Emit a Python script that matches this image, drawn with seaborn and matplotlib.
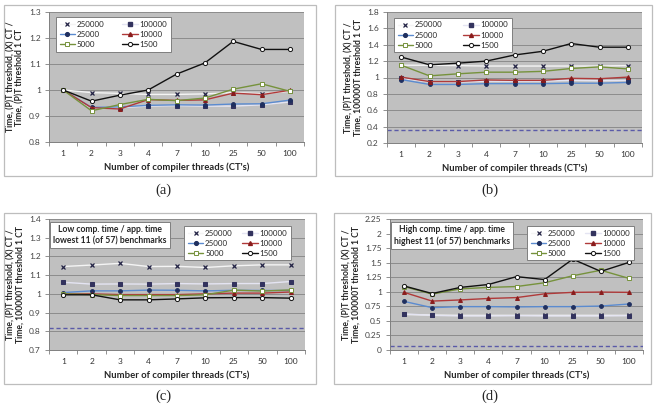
import seaborn as sns
import matplotlib.pyplot as plt
import matplotlib.patches as patches
import matplotlib.ticker as mticker
from matplotlib.lines import Line2D
import numpy as np

threads = ["1", "2", "3", "4", "7", "10", "25", "50", "100"]
series_names = ["250000", "100000", "25000", "10000", "5000", "1500"]

# panel (a)
a_250000 = [1.0, 0.99, 0.987, 0.983, 0.983, 0.985, 0.99, 0.986, 0.995]
a_100000 = [1.0, 0.93, 0.932, 0.938, 0.94, 0.938, 0.938, 0.943, 0.954]
a_25000 = [1.0, 0.933, 0.935, 0.941, 0.943, 0.942, 0.946, 0.947, 0.961]
a_10000 = [1.0, 0.932, 0.927, 0.963, 0.96, 0.962, 0.988, 0.982, 0.999]
a_5000 = [1.0, 0.92, 0.944, 0.964, 0.959, 0.969, 1.003, 1.024, 0.995]
a_1500 = [1.0, 0.957, 0.98, 1.0, 1.061, 1.104, 1.187, 1.156, 1.156]

# panel (b)
b_250000 = [1.15, 1.15, 1.145, 1.14, 1.14, 1.14, 1.14, 1.14, 1.145]
b_100000 = [0.99, 0.945, 0.945, 0.955, 0.955, 0.955, 0.965, 0.96, 0.965]
b_25000 = [0.975, 0.915, 0.915, 0.925, 0.925, 0.925, 0.93, 0.93, 0.94]
b_10000 = [1.005, 0.95, 0.95, 0.97, 0.965, 0.965, 0.99, 0.985, 1.005]
b_5000 = [1.15, 1.02, 1.045, 1.065, 1.065, 1.075, 1.11, 1.13, 1.105]
b_1500 = [1.25, 1.155, 1.175, 1.2, 1.275, 1.32, 1.415, 1.37, 1.37]
b_ref = 0.36

# panel (c)
c_250000 = [1.146, 1.154, 1.163, 1.146, 1.147, 1.141, 1.15, 1.155, 1.155]
c_100000 = [1.062, 1.052, 1.053, 1.052, 1.055, 1.053, 1.055, 1.055, 1.066]
c_25000 = [1.007, 1.016, 1.016, 1.02, 1.019, 1.016, 1.019, 1.018, 1.018]
c_10000 = [1.0, 1.0, 0.996, 0.996, 0.996, 1.0, 1.004, 1.004, 1.01]
c_5000 = [1.0, 0.996, 0.991, 0.991, 0.991, 0.995, 1.02, 1.015, 1.021]
c_1500 = [0.995, 0.995, 0.968, 0.968, 0.973, 0.979, 0.98, 0.98, 0.977]
c_ref = 0.82

# panel (d)
d_250000 = [0.61, 0.6, 0.595, 0.595, 0.595, 0.595, 0.595, 0.595, 0.595]
d_100000 = [0.62, 0.595, 0.585, 0.585, 0.59, 0.585, 0.585, 0.585, 0.59]
d_25000 = [0.835, 0.727, 0.745, 0.745, 0.74, 0.745, 0.745, 0.755, 0.79]
d_10000 = [0.99, 0.84, 0.86, 0.885, 0.9, 0.965, 0.99, 0.995, 0.99]
d_5000 = [1.09, 0.96, 1.05, 1.075, 1.09, 1.155, 1.275, 1.37, 1.23]
d_1500 = [1.1, 0.97, 1.075, 1.125, 1.26, 1.21, 1.56, 1.35, 1.505]
d_ref = 0.075

styles = {
    "250000": dict(color="#f4f4f4", marker="x", markersize=2.6, mec="#222244", mfc="#222244", mew=0.9),
    "100000": dict(color="#e4e4f2", marker="s", markersize=3.0, mec="#33335e", mfc="#33335e"),
    "25000": dict(color="#5b8bd0", marker="o", markersize=2.7, mec="#1f2f5f", mfc="#1f2f5f"),
    "10000": dict(color="#b03a3a", marker="^", markersize=2.8, mec="#8a1c1c", mfc="#8a1c1c"),
    "5000": dict(color="#76923c", marker="s", markersize=3.0, mec="#76923c", mfc="white", mew=0.7),
    "1500": dict(color="#111111", marker="o", markersize=3.0, mec="#111111", mfc="white", mew=0.7),
}

sns.set_theme(style="white")
plt.rcParams["font.family"] = ["Lato", "DejaVu Sans"]

W, H = 655, 404
fig = plt.figure(figsize=(W / 100, H / 100), dpi=100)
fig.patch.set_facecolor("white")


def px_axes(l, t, r, b):
    return fig.add_axes([l / W, 1 - b / H, (r - l) / W, (b - t) / H])


def frame(l, t, r, b):
    fig.patches.append(patches.Rectangle((l / W, 1 - b / H), (r - l) / W, (b - t) / H,
                                         transform=fig.transFigure, fill=False,
                                         edgecolor="#bdbdbd", linewidth=0.9))


ylab_a = "Time, (P)T threshold, (X) CT /\nTime, (P)T threshold 1 CT"
ylab_b = "Time, (P)T threshold, (X) CT /\nTime, 100000T threshold 1 CT"

panels = [
    dict(box=(49, 12, 304, 142), frame=(4, 5, 316, 176), data=[a_250000, a_100000, a_25000, a_10000, a_5000, a_1500],
         ylim=(0.8, 1.3), step=0.1, ylabel=ylab_a, ref=None, leg_loc="upper left", leg_anchor=(0.012, 0.99),
         colsp=2.2, note=None, caption=("(a)", 163, 190)),
    dict(box=(387, 12, 642, 143), frame=(335, 5, 652, 176), data=[b_250000, b_100000, b_25000, b_10000, b_5000, b_1500],
         ylim=(0.2, 1.8), step=0.2, ylabel=ylab_b, ref=b_ref, leg_loc="upper left", leg_anchor=(0.012, 0.985),
         colsp=2.6, note=None, caption=("(b)", 490, 190)),
    dict(box=(49, 219, 305, 350), frame=(4, 213, 316, 384), data=[c_250000, c_100000, c_25000, c_10000, c_5000, c_1500],
         ylim=(0.7, 1.4), step=0.1, ylabel=ylab_b, ref=c_ref, leg_loc="upper right", leg_anchor=(0.961, 0.977),
         colsp=1.2, note="Low comp. time / app. time\nlowest 11 (of 57) benchmarks", caption=("(c)", 163, 396)),
    dict(box=(390, 219, 643, 350), frame=(334, 213, 651, 384), data=[d_250000, d_100000, d_25000, d_10000, d_5000, d_1500],
         ylim=(0.0, 2.25), step=0.25, ylabel=ylab_b, ref=d_ref, leg_loc="upper right", leg_anchor=(0.98, 0.977),
         colsp=1.2, note="High comp. time / app. time\nhighest 11 (of 57) benchmarks", caption=("(d)", 490, 396)),
]

x = np.arange(len(threads))

for p in panels:
    frame(*p["frame"])
    ax = px_axes(*p["box"])
    ax.set_facecolor("#c0c0c0")
    lo, hi = p["ylim"]
    ax.set_ylim(lo, hi)
    ax.set_xlim(-0.5, len(threads) - 0.5)
    ax.yaxis.set_major_locator(mticker.MultipleLocator(p["step"]))
    ax.yaxis.set_major_formatter(mticker.FuncFormatter(lambda v, pos: "{:g}".format(round(v, 2))))
    ax.grid(axis="y", color="#8c8c8c", linewidth=0.7)
    ax.set_axisbelow(True)

    if p["ref"] is not None:
        ax.axhline(p["ref"], color="#5a5aa8", linestyle=(0, (3, 2)), linewidth=1.0, zorder=1)

    for name, vals in zip(series_names, p["data"]):
        st = dict(styles[name])
        sns.lineplot(x=x, y=vals, ax=ax, linewidth=1.0, zorder=3, **st)

    ax.set_xticks(x)
    ax.set_xticklabels(threads)
    ax.xaxis.set_minor_locator(mticker.FixedLocator(np.arange(-0.5, len(threads), 1.0)))
    ax.tick_params(axis="x", which="major", length=0, labelsize=6, colors="#333333", pad=6)
    ax.tick_params(axis="x", which="minor", length=3, color="#7f7f7f", width=0.6, bottom=True)
    ax.tick_params(axis="y", length=3, color="#7f7f7f", width=0.6, left=True, labelsize=6, labelcolor="#444444", pad=3)
    for s in ["top", "right"]:
        ax.spines[s].set_visible(False)
    for s in ["left", "bottom"]:
        ax.spines[s].set_color("#7f7f7f")
        ax.spines[s].set_linewidth(0.7)

    ax.set_xlabel("Number of compiler threads (CT's)", fontsize=6.8, fontweight="bold", labelpad=4)
    ax.set_ylabel(p["ylabel"], fontsize=6.2, fontweight="bold", labelpad=3, linespacing=1.1)

    handles = []
    for name in ["250000", "25000", "5000", "100000", "10000", "1500"]:
        st = styles[name]
        h = Line2D([], [], color=st["color"], marker=st["marker"], markersize=st["markersize"],
                   mec=st["mec"], mfc=st["mfc"], mew=st.get("mew", 1.0), linewidth=1.0)
        handles.append(h)
    labels = ["250000", "25000", "5000", "100000", "10000", "1500"]
    leg = ax.legend(handles, labels, ncol=2, loc=p["leg_loc"], bbox_to_anchor=p["leg_anchor"],
                    fontsize=5.7, frameon=True, fancybox=False, handlelength=2.0, handletextpad=0.2,
                    columnspacing=p["colsp"], borderpad=0.45, labelspacing=0.4)
    leg.get_frame().set_edgecolor("#7f7f7f")
    leg.get_frame().set_linewidth(0.7)
    leg.get_frame().set_facecolor("white")
    leg.get_frame().set_alpha(1)

    if p["note"]:
        ax.text(0.016, 0.955, p["note"],
                transform=ax.transAxes, ha="left", va="top", fontsize=6.2, fontweight="bold",
                linespacing=1.3, zorder=5, multialignment="center",
                bbox=dict(boxstyle="square,pad=0.35", facecolor="white", edgecolor="#7f7f7f", linewidth=0.7))

    cap, cx, cy = p["caption"]
    fig.text(cx / W, 1 - cy / H, cap, ha="center", va="center", fontsize=10.5, family="Liberation Serif")

plt.savefig("out.png", dpi=100)
